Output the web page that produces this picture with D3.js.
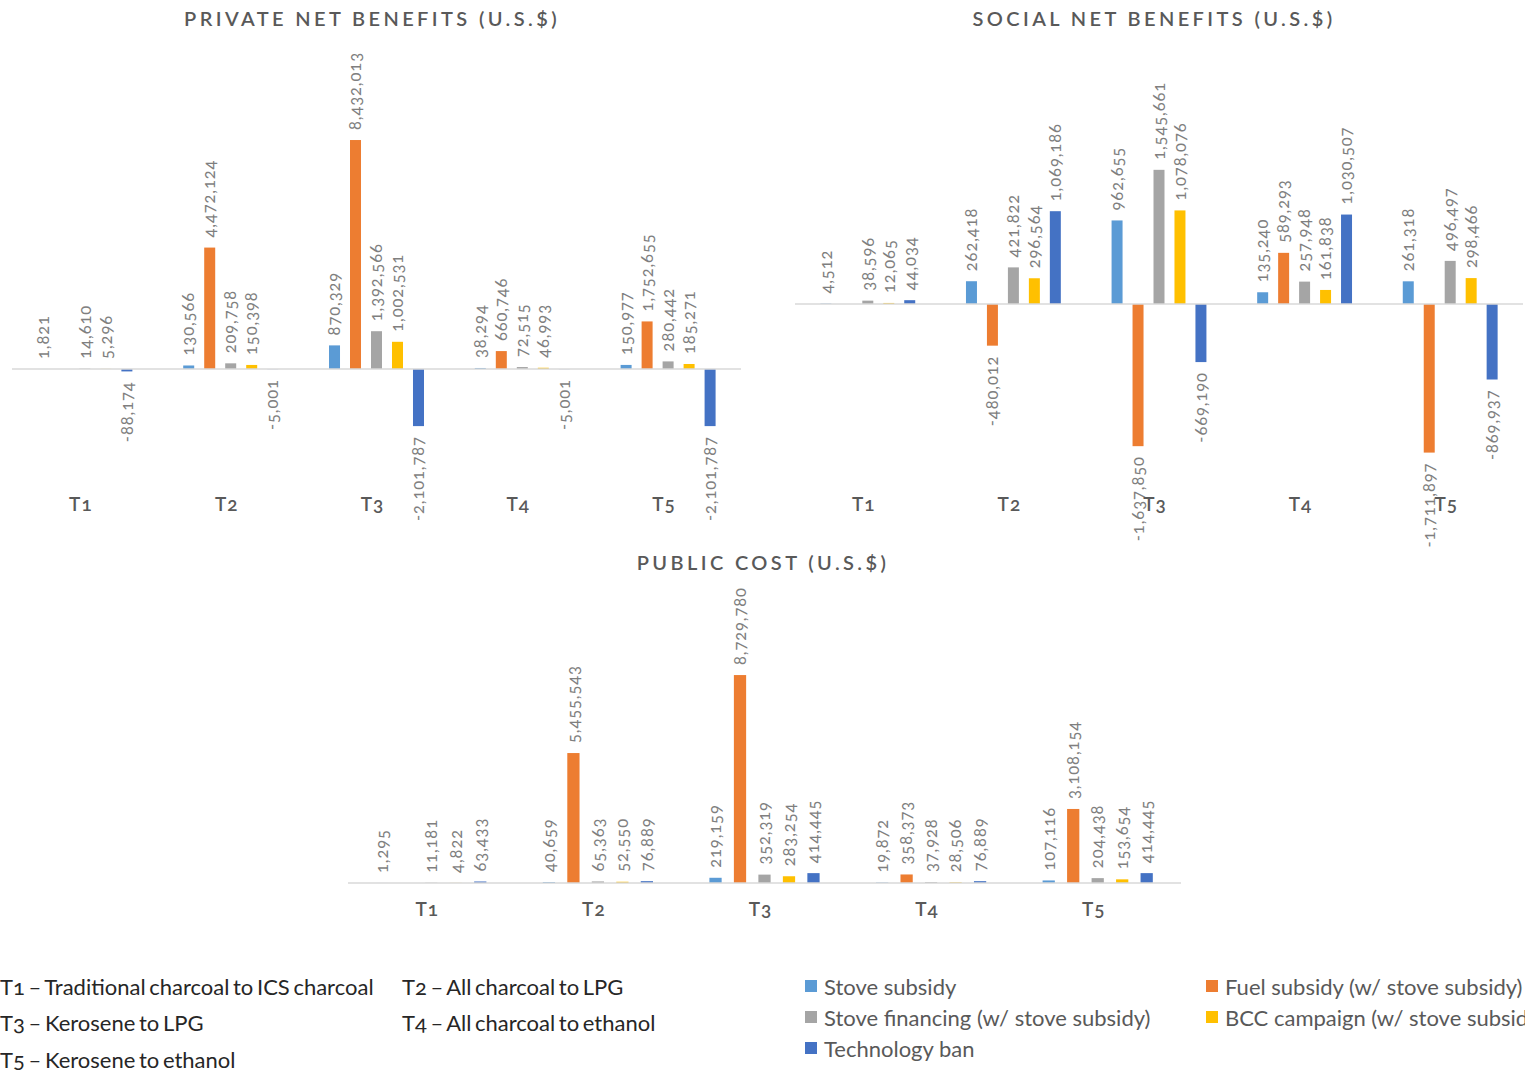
<!DOCTYPE html>
<html>
<head>
<meta charset="utf-8">
<script src="https://cdn.jsdelivr.net/npm/d3@7"></script>
<style>
  html, body { margin: 0; padding: 0; background: #fff; }
  svg { display: block; font-family: Lato, "Noto Sans", sans-serif; }
  .onum { font-feature-settings: "onum" 1; }
</style>
</head>
<body>
<svg id="chart" width="1525" height="1071"></svg>
<script>
// Treatment scenarios and policy instruments
const categories = ["T1", "T2", "T3", "T4", "T5"];
const seriesNames = [
  "Stove subsidy",
  "Fuel subsidy (w/ stove subsidy)",
  "Stove financing (w/ stove subsidy)",
  "BCC campaign (w/ stove subsidy)",
  "Technology ban"
];
const seriesColors = ["#5B9BD5", "#ED7D31", "#A5A5A5", "#FFC000", "#4472C4"];

// Private net benefits (U.S.$)
const privateStove     = [1821, 130566, 870329, 38294, 150977];
const privateFuel      = [null, 4472124, 8432013, 660746, 1752655];
const privateFinancing = [14610, 209758, 1392566, 72515, 280442];
const privateBcc       = [5296, 150398, 1002531, 46993, 185271];
const privateBan       = [-88174, -5001, -2101787, -5001, -2101787];

// Social net benefits (U.S.$)
const socialStove     = [4512, 262418, 962655, 135240, 261318];
const socialFuel      = [null, -480012, -1637850, 589293, -1711897];
const socialFinancing = [38596, 421822, 1545661, 257948, 496497];
const socialBcc       = [12065, 296564, 1078076, 161838, 298466];
const socialBan       = [44034, 1069186, -669190, 1030507, -869937];

// Public cost (U.S.$)
const publicStove     = [1295, 40659, 219159, 19872, 107116];
const publicFuel      = [null, 5455543, 8729780, 358373, 3108154];
const publicFinancing = [11181, 65363, 352319, 37928, 204438];
const publicBcc       = [4822, 52550, 283254, 28506, 153654];
const publicBan       = [63433, 76889, 414445, 76889, 414445];

// Scenario descriptions
const scenarioNotes = [
  "T1 – Traditional charcoal to ICS charcoal",
  "T2 – All charcoal to LPG",
  "T3 – Kerosene to LPG",
  "T4 – All charcoal to ethanol",
  "T5 – Kerosene to ethanol"
];

const svg = d3.select("#chart");
// thousands separators with a plain hyphen for negatives
const fmt = d3.formatLocale({
  decimal: ".", thousands: ",", grouping: [3], currency: ["$", ""], minus: "-"
}).format(",");

function drawPanel(opts) {
  const g = svg.append("g");
  const seriesValues = opts.series;

  const x0 = d3.scaleBand()
    .domain(categories)
    .range(opts.xRange)
    .paddingInner(opts.groupPad)
    .paddingOuter(opts.groupPad / 2);

  const x1 = d3.scaleBand()
    .domain(d3.range(seriesNames.length))
    .range([0, x0.bandwidth()])
    .paddingInner(opts.barPad)
    .paddingOuter(opts.barPad / 2);

  const y = d3.scaleLinear().domain(opts.yDomain).range(opts.yRange);

  // title
  g.append("text")
    .attr("x", opts.titleX)
    .attr("y", opts.titleY)
    .attr("text-anchor", "middle")
    .attr("dominant-baseline", "central")
    .attr("fill", "#595959")
    .attr("font-size", 20)
    .attr("font-weight", 600)
    .attr("letter-spacing", 3.4)
    .text(opts.title);

  // flatten into marks
  const marks = [];
  categories.forEach((c, ci) => {
    seriesValues.forEach((arr, si) => {
      const v = arr[ci];
      if (v === null || v === undefined) return;
      marks.push({ c, si, v });
    });
  });

  // bars
  g.append("g").selectAll("rect")
    .data(marks)
    .join("rect")
    .attr("x", d => x0(d.c) + x1(d.si))
    .attr("width", x1.bandwidth())
    .attr("y", d => Math.min(y(0), y(d.v)))
    .attr("height", d => Math.abs(y(d.v) - y(0)))
    .attr("fill", d => seriesColors[d.si]);

  // zero line
  g.append("line")
    .attr("x1", opts.xRange[0]).attr("x2", opts.xRange[1])
    .attr("y1", y(0)).attr("y2", y(0))
    .attr("stroke", "#d9d9d9")
    .attr("stroke-width", 1.5);

  // value labels, rotated
  g.append("g").selectAll("text")
    .data(marks)
    .join("text")
    .attr("class", "onum")
    .attr("transform", d => {
      const cx = x0(d.c) + x1(d.si) + x1.bandwidth() / 2;
      const yy = d.v >= 0 ? y(d.v) - 10 : y(d.v) + 10;
      return `translate(${cx},${yy}) rotate(-90)`;
    })
    .attr("text-anchor", d => d.v >= 0 ? "start" : "end")
    .attr("dy", "0.35em")
    .attr("fill", "#7f7f7f")
    .attr("font-size", 16.5)
    .attr("letter-spacing", 0.9)
    .text(d => fmt(d.v));

  // category labels
  g.append("g").selectAll("text")
    .data(categories)
    .join("text")
    .attr("class", "onum")
    .attr("x", c => x0(c) + x0.bandwidth() / 2 - 4)
    .attr("y", opts.catY)
    .attr("text-anchor", "middle")
    .attr("dominant-baseline", "central")
    .attr("fill", "#595959")
    .attr("font-size", 19)
    .attr("font-weight", 600)
    .attr("letter-spacing", 1)
    .text(c => c);
}

drawPanel({
  title: "PRIVATE NET BENEFITS (U.S.$)",
  titleX: 372, titleY: 18,
  xRange: [12, 741],
  groupPad: 0.28, barPad: 0.476,
  yDomain: [-3000000, 9000000], yRange: [450.5, 124.6],
  catY: 503,
  series: [privateStove, privateFuel, privateFinancing, privateBcc, privateBan]
});

drawPanel({
  title: "SOCIAL NET BENEFITS (U.S.$)",
  titleX: 1154, titleY: 18,
  xRange: [795, 1523],
  groupPad: 0.28, barPad: 0.476,
  yDomain: [-2000000, 2000000], yRange: [477.6, 130.4],
  catY: 503,
  series: [socialStove, socialFuel, socialFinancing, socialBcc, socialBan]
});

drawPanel({
  title: "PUBLIC COST (U.S.$)",
  titleX: 763, titleY: 562,
  xRange: [348, 1181],
  groupPad: 0.265, barPad: 0.5,
  yDomain: [0, 10000000], yRange: [883, 644.8],
  catY: 908,
  series: [publicStove, publicFuel, publicFinancing, publicBcc, publicBan]
});

// scenario notes
const notePos = [[0, 986], [402, 986], [0, 1022], [402, 1022], [0, 1059]];
svg.append("g").selectAll("text")
  .data(scenarioNotes)
  .join("text")
  .attr("class", "onum")
  .attr("x", (d, i) => notePos[i][0])
  .attr("y", (d, i) => notePos[i][1])
  .attr("dominant-baseline", "central")
  .attr("fill", "#262626")
  .attr("font-size", 22)
  .attr("word-spacing", -2)
  .text(d => d);

// series legend
const legendPos = [[805, 986], [1206, 986], [805, 1017], [1206, 1017], [805, 1048]];
const legend = svg.append("g").selectAll("g")
  .data(seriesNames)
  .join("g")
  .attr("transform", (d, i) => `translate(${legendPos[i][0]},${legendPos[i][1]})`);
legend.append("rect")
  .attr("x", 0).attr("y", -6)
  .attr("width", 12).attr("height", 12)
  .attr("fill", (d, i) => seriesColors[i]);
legend.append("text")
  .attr("x", 19).attr("y", 0)
  .attr("dominant-baseline", "central")
  .attr("fill", "#595959")
  .attr("font-size", 22)
  .text(d => d);
</script>
</body>
</html>
